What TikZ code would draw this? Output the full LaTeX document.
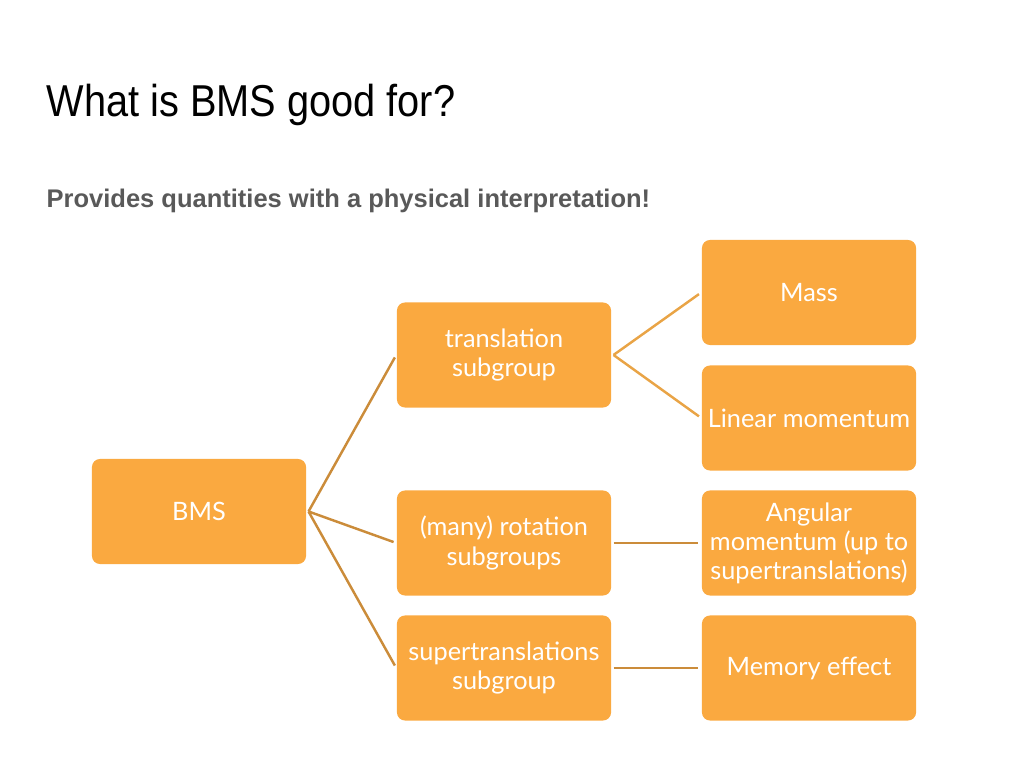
\documentclass[tikz,border=0pt]{standalone}
\usepackage{fontspec}
\setmainfont{Liberation Sans}
\newfontfamily\boxfont{Lato}
\usetikzlibrary{positioning}
\definecolor{boxorange}{RGB}{250,169,64}
\definecolor{linkbrown}{RGB}{203,140,58}
\definecolor{linklight}{RGB}{233,164,70}
\definecolor{subgray}{RGB}{89,89,89}
\tikzset{
    % Colors
    box color/.style={fill=boxorange},
    link color/.style={color=linkbrown},
    %
    % Text
    title text/.style={anchor=base west,inner sep=0pt,xscale=0.89,font=\fontsize{12.7pt}{15pt}\selectfont},
    sub text/.style={anchor=base west,inner sep=0pt,text=subgray,font=\fontsize{7.25pt}{8.5pt}\selectfont\bfseries},
    %
    % Nodes
    topic/.style={box color,rounded corners=2.3pt,minimum width=2.14cm,minimum height=1.05cm,
        inner sep=0pt,align=center,text=white,font=\boxfont\fontsize{7.2pt}{8.25pt}\selectfont},
    %
    % Connectors
    link/.style={link color,line width=0.7pt,shorten >=0.8pt},
    light link/.style={link,color=linklight}
}

\begin{document}
\begin{tikzpicture}[x=0.01cm,y=-0.01cm]
    \useasboundingbox (0,0) rectangle (1024,768);
    \node[title text] (title) at (46,117) {What is BMS good for?};
    \node[sub text] (sub) at (46,208) {Provides quantities with a physical interpretation!};
    % tree
    \node[topic] (bms) at (199,511.5) {BMS};
    \node[topic] (trans) at (504,355) {translation\\subgroup};
    \node[topic] (rot) at (504,543) {(many) rotation\\subgroups};
    \node[topic] (super) at (504,668) {supertranslations\\subgroup};
    \node[topic] (mass) at (809,292.5) {Mass};
    \node[topic] (lin) at (809,418) {Linear momentum};
    \node[topic] (ang) at (809,543) {Angular\\momentum (up to\\supertranslations)};
    \node[topic] (mem) at (809,668) {Memory effect};
    \foreach \t in {trans,rot,super}{
        \draw[link] ([xshift=0.5pt]bms.east) -- (\t.west);
    }
    \draw[light link] ([xshift=0.5pt]trans.east) -- (mass.west);
    \draw[light link] ([xshift=0.5pt]trans.east) -- (lin.west);
    \draw[link] ([xshift=0.5pt]rot.east) -- (ang.west);
    \draw[link] ([xshift=0.5pt]super.east) -- (mem.west);
\end{tikzpicture}
\end{document}
